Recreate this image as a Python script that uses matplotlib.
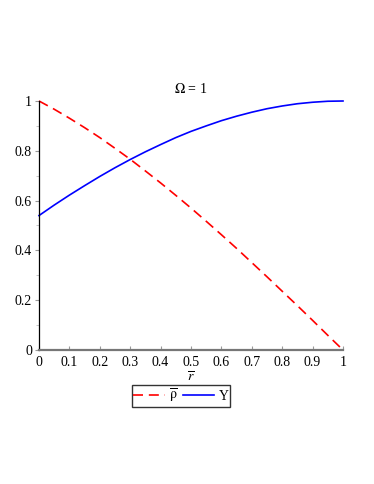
import numpy as np
import matplotlib
matplotlib.use("Agg")
import matplotlib.pyplot as plt
from matplotlib.ticker import MultipleLocator

plt.rcParams["font.family"] = ["Liberation Serif", "DejaVu Serif"]
plt.rcParams["mathtext.fontset"] = "stix"

# values
r_bar = [0.0, 0.05, 0.1, 0.15, 0.2, 0.25, 0.3, 0.35, 0.4, 0.45, 0.5,
         0.55, 0.6, 0.65, 0.7, 0.75, 0.8, 0.85, 0.9, 0.95, 1.0]
rho_bar = [1.0, 0.967, 0.931, 0.893, 0.853, 0.810, 0.766, 0.719, 0.671, 0.621, 0.570,
           0.517, 0.463, 0.408, 0.351, 0.294, 0.236, 0.178, 0.119, 0.059, 0.0]
upsilon = [0.540, 0.582, 0.622, 0.660, 0.697, 0.732, 0.765, 0.796, 0.825, 0.853, 0.878,
           0.900, 0.921, 0.939, 0.955, 0.969, 0.980, 0.989, 0.995, 0.999, 1.0]
x_ticks = [0, 0.1, 0.2, 0.3, 0.4, 0.5, 0.6, 0.7, 0.8, 0.9, 1]
x_labels = ["0", "0.1", "0.2", "0.3", "0.4", "0.5", "0.6", "0.7", "0.8", "0.9", "1"]
y_ticks = [0, 0.2, 0.4, 0.6, 0.8, 1]
y_labels = ["0", "0.2", "0.4", "0.6", "0.8", "1"]

fig = plt.figure(figsize=(3.74, 4.84), dpi=100)
ax = fig.add_axes([39 / 374, 1 - 350 / 484, 304 / 374, 249 / 484])

ax.plot(r_bar, rho_bar, color="#ff0000", lw=1.2, dashes=(6, 3.5),
        label=r"$\overline{\mathrm{\rho}}$", clip_on=False)
ax.plot(r_bar, upsilon, color="#0000ff", lw=1.2, label="Y", clip_on=False)

ax.set_xlim(0, 1)
ax.set_ylim(0, 1)
ax.set_xticks(x_ticks, x_labels)
ax.set_yticks(y_ticks, y_labels)
ax.yaxis.set_minor_locator(MultipleLocator(0.1))
ax.tick_params(axis="x", direction="in", length=3, color="#999999", labelsize=10, pad=4)
ax.tick_params(axis="y", direction="out", length=3, color="#999999", labelsize=10, pad=2)
ax.tick_params(axis="y", which="minor", direction="out", length=2, color="#bbbbbb")

for side in ["top", "right"]:
    ax.spines[side].set_visible(False)
ax.spines["left"].set_color("black")
ax.spines["left"].set_linewidth(0.9)
ax.spines["bottom"].set_color("#777777")
ax.spines["bottom"].set_linewidth(1.6)

ax.set_title(r"$\Omega$ = 1", fontsize=10, pad=6)
ax.set_xlabel(r"$\overline{r}$", fontsize=10, labelpad=1)

fig.legend(loc="center", bbox_to_anchor=(181 / 374, 1 - 396 / 484), ncol=2,
           frameon=True, fancybox=False, edgecolor="black", fontsize=10,
           handlelength=2.3, handletextpad=0.3, columnspacing=0.3,
           borderpad=0.1, borderaxespad=0)

fig.savefig("out.png", dpi=100)
